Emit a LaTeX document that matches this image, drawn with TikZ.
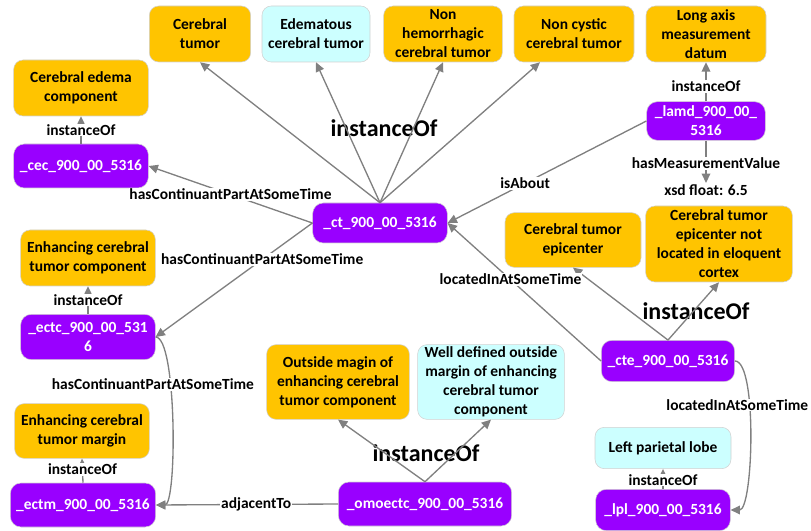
\documentclass[tikz,border=0pt]{standalone}
\usepackage{fontspec}
\setmainfont{Carlito}
\definecolor{clsgold}{HTML}{FFC400}
\definecolor{clscyan}{HTML}{CCFFFF}
\definecolor{instpurple}{HTML}{9900FF}
\definecolor{linkgray}{HTML}{808080}
\usetikzlibrary{arrows.meta, positioning}

\begin{document}
\begin{tikzpicture}[x=0.75pt, y=-0.75pt,
    cls/.style={draw=black!18, rounded corners=7pt, fill=clsgold, align=center, inner sep=1pt, font=\bfseries\fontsize{11.6}{14.25}\selectfont},
    clsnew/.style={cls, fill=clscyan},
    inst/.style={draw=black!18, rounded corners=8pt, fill=instpurple, text=white, align=center, inner sep=1pt, font=\bfseries\fontsize{11.6}{14.25}\selectfont},
    link/.style={-{Triangle[length=7pt,width=6.5pt]}, draw=linkgray, line width=1pt},
    lbl/.style={fill=white, inner sep=0.6pt, font=\bfseries\fontsize{11.6}{14.25}\selectfont},
    biglbl/.style={font=\bfseries\fontsize{18}{22}\selectfont}
]
    \useasboundingbox (0,0) rectangle (811,531);

    % Top row of classes
    \node[cls, minimum width=76pt, minimum height=42pt] (crt) at (200,34) {Cerebral\\tumor};
    \node[clsnew, minimum width=81pt, minimum height=42pt] (edm) at (316,34) {Edematous\\cerebral tumor};
    \node[cls, minimum width=89pt, minimum height=42pt] (nhm) at (443,34) {Non\\hemorrhagic\\cerebral tumor};
    \node[cls, minimum width=90pt, minimum height=42pt] (ncy) at (574,34) {Non cystic\\cerebral tumor};
    \node[cls, minimum width=90pt, minimum height=42pt] (lad) at (706,34) {Long axis\\measurement\\datum};

    % Cerebral tumor
    \node[inst, minimum width=101pt, minimum height=30pt] (ct) at (380,223) {\_ct\_900\_00\_5316};
    \node[biglbl] (ctinst) at (384,128) {instanceOf};

    % Measurement
    \node[inst, minimum width=89pt, minimum height=29pt] (lamd) at (706,121) {\_lamd\_900\_00\_\\5316};
    \node[font=\bfseries\fontsize{11.6}{14.25}\selectfont, inner sep=1pt] (xsd) at (706,190) {xsd float: 6.5};

    % Edema component
    \node[cls, minimum width=101pt, minimum height=42pt] (cecc) at (81,88) {Cerebral edema\\component};
    \node[inst, minimum width=101pt, minimum height=33pt] (cec) at (81,166) {\_cec\_900\_00\_5316};

    % Enhancing component
    \node[cls, minimum width=101pt, minimum height=42pt] (ectcc) at (88,258) {Enhancing cerebral\\tumor component};
    \node[inst, minimum width=101pt, minimum height=34pt] (ectc) at (88,337) {\_ectc\_900\_00\_531\\6};

    % Enhancing margin
    \node[cls, minimum width=101pt, minimum height=41pt] (ectmc) at (82,431) {Enhancing cerebral\\tumor margin};
    \node[inst, minimum width=109pt, minimum height=33pt] (ectm) at (83,505) {\_ectm\_900\_00\_5316};

    % Outside margin
    \node[cls, minimum width=107pt, minimum height=56pt] (omc) at (338,382) {Outside magin of\\enhancing cerebral\\tumor component};
    \node[clsnew, minimum width=110pt, minimum height=56pt] (wdc) at (491,382) {Well defined outside\\margin of enhancing\\cerebral tumor\\component};
    \node[inst, minimum width=130pt, minimum height=33pt] (omo) at (425,504) {\_omoectc\_900\_00\_5316};
    \node[biglbl] (omoinst) at (426,453) {instanceOf};

    % Epicenter
    \node[cls, minimum width=102pt, minimum height=41pt] (ctec) at (573,240) {Cerebral tumor\\epicenter};
    \node[cls, minimum width=110pt, minimum height=57pt] (ctenl) at (719,244) {Cerebral tumor\\epicenter not\\located in eloquent\\cortex};
    \node[inst, minimum width=100pt, minimum height=31pt] (cte) at (668,361) {\_cte\_900\_00\_5316};
    \node[biglbl] (cteinst) at (696,311) {instanceOf};

    % Parietal lobe
    \node[clsnew, minimum width=102pt, minimum height=31pt] (lplc) at (663,448) {Left parietal lobe};
    \node[inst, minimum width=101pt, minimum height=31pt] (lpl) at (663,510) {\_lpl\_900\_00\_5316};

    % instanceOf fans
    \draw[link] (ct.north) -- (crt.south);
    \draw[link] (ct.north) -- (edm.south);
    \draw[link] (ct.north) -- (nhm.south);
    \draw[link] (ct.north) -- ([xshift=-25.5pt]ncy.south);
    \draw[link] (cte.north) -- (ctec.south);
    \draw[link] (cte.north) -- (ctenl.south);
    \draw[link] (omo.north) -- (omc.south);
    \draw[link] (omo.north) -- (wdc.south);

    % short instanceOf links
    \draw[link] (cec.north) -- node[lbl] {instanceOf} (cecc.south);
    \draw[link] (ectc.north) -- node[lbl] {instanceOf} (ectcc.south);
    \draw[link] (ectm.north) -- node[lbl, pos=0.55] {instanceOf} (ectmc.south);
    \draw[link] (lpl.north) -- node[lbl, pos=0.45] {instanceOf} (lplc.south);
    \draw[link] (lamd.north) -- node[lbl, pos=0.38] {instanceOf} (lad.south);
    \draw[link] (lamd.south) -- node[lbl, pos=0.54] {hasMeasurementValue} (xsd.north);

    % relations
    \draw[link] (ct.west) -- node[lbl, pos=0.5] {hasContinuantPartAtSomeTime} (cec.east);
    \draw[link] (ct.west) -- node[lbl, pos=0.32] {hasContinuantPartAtSomeTime} (ectc.east);
    \draw[link] (lamd.west) -- node[lbl, pos=0.61] {isAbout} (ct.east);
    \draw[link] (cte.west) -- node[lbl, pos=0.59] {locatedInAtSomeTime} (ct.east);
    \draw[link] (ectc.east) to[out=0, in=0, distance=16pt] node[lbl, pos=0.35, xshift=-13pt] {hasContinuantPartAtSomeTime} (ectm.east);
    \draw[link] (cte.east) to[out=0, in=0, distance=17pt] node[lbl, pos=0.36, xshift=-9pt] {locatedInAtSomeTime} (lpl.east);
    \draw[link] (omo.west) -- node[lbl, pos=0.45] {adjacentTo} (ectm.east);
\end{tikzpicture}
\end{document}
